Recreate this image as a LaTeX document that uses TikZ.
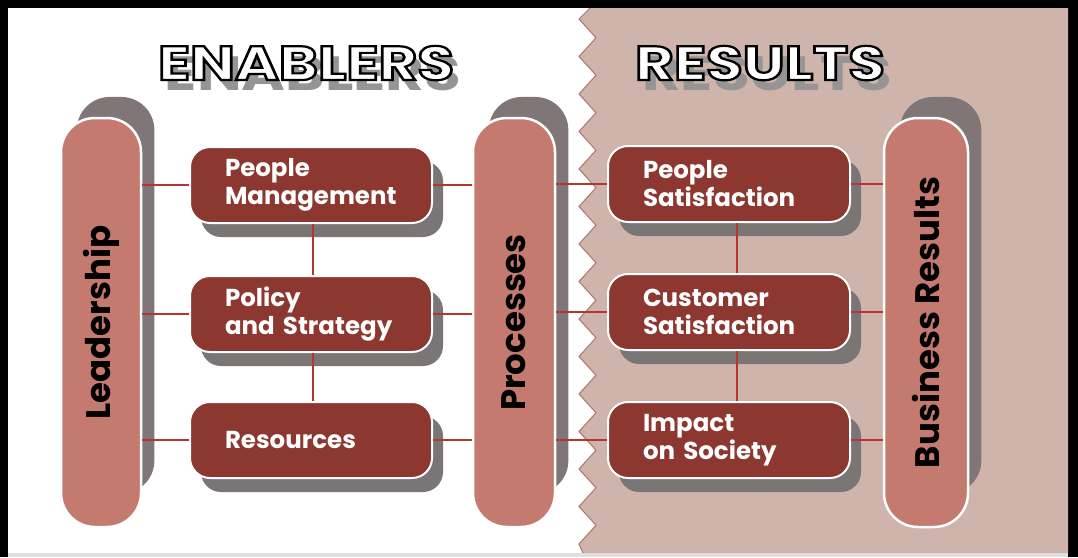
\documentclass[tikz,border=0pt]{standalone}
\usepackage{fontspec}
\setmainfont{Poppins}
\usetikzlibrary{shadows}
\definecolor{pinkbg}{RGB}{206,180,171}
\definecolor{pinkedge}{RGB}{172,118,108}
\definecolor{pillred}{RGB}{196,122,110}
\definecolor{pillgray}{RGB}{128,118,120}
\definecolor{boxred}{RGB}{140,56,48}
\definecolor{boxgray}{RGB}{122,118,118}
\definecolor{linkred}{RGB}{184,52,46}
\definecolor{titlegray}{RGB}{150,148,148}
% outlined letters: fill white, stroke black
\newcommand{\outlined}[1]{\textcolor{white}{\special{pdf:literal direct 0 0 0 RG 2.2 w 2 Tr}#1\special{pdf:literal direct 0 Tr}}}
\tikzset{
	pill/.style={draw=white, line width=2.5pt, fill=pillred, rounded corners=34pt, minimum width=80pt, minimum height=409pt, inner sep=0pt, font=\fontsize{34}{34}\selectfont\bfseries, drop shadow={shadow xshift=15pt, shadow yshift=28pt, shadow scale=0.97, fill=pillgray, opacity=1}},
	stage/.style={draw=white, line width=2pt, fill=boxred, rounded corners=20pt, minimum width=242pt, minimum height=76pt, text width=172pt, inner xsep=35pt, align=left, text=white, font=\fontsize{24.5}{28}\selectfont\bfseries, drop shadow={shadow xshift=11pt, shadow yshift=-14pt, fill=boxgray, opacity=1}},
	link/.style={draw=linkred, line width=2.5pt},
	title/.style={font=\fontsize{48}{48}\selectfont\bfseries, anchor=base, inner sep=0pt}
}
\begin{document}
\begin{tikzpicture}[x=1pt,y=-1pt]
	% Frame
	\useasboundingbox (0,0) rectangle (1078,557);
	\fill [black] (0,0) rectangle (1078,557);
	\fill [white] (8,8) rectangle (1068,553);
	\fill [black!12] (8,553) rectangle (1068,557);
	% Results side
	\fill [pinkbg] (590,8) \foreach \k in {0,...,13} { -- (579,{19+37.5*\k}) -- (596,{37.75+37.5*\k}) } -- (579,544) -- (583,553) -- (1068,553) -- (1068,8) -- cycle;
	\draw [pinkedge, line width=1pt] (590,8) \foreach \k in {0,...,13} { -- (579,{19+37.5*\k}) -- (596,{37.75+37.5*\k}) } -- (579,544) -- (583,553);
	% Titles
	\node [title, text=titlegray] (enshadow) at (313,90) {\scalebox{1.24}[1]{ENABLERS}};
	\node [title] (enablers) at (306,80) {\scalebox{1.24}[1]{\outlined{ENABLERS}}};
	\node [title, text=titlegray] (reshadow) at (767,90) {\scalebox{1.24}[1]{RESULTS}};
	\node [title] (results) at (760,80) {\scalebox{1.24}[1]{\outlined{RESULTS}}};
	% Pillars
	\node [pill] (lead) at (101,322.5) {\rotatebox{90}{Leadership}};
	\node [pill, minimum width=82pt] (proc) at (514,322.5) {\rotatebox{90}{Processes}};
	\node [pill, minimum width=84pt] (bres) at (926,322.5) {\rotatebox{90}{Business Results}};
	% Enablers
	\node [stage] (pm) at (311,185) {People\\Management};
	\node [stage] (pstr) at (311,314) {Policy\\and Strategy};
	\node [stage] (res) at (311,440) {Resources};
	% Results
	\node [stage] (psat) at (729,184) {People\\Satisfaction};
	\node [stage] (csat) at (729,312) {Customer\\Satisfaction};
	\node [stage] (impact) at (729,440) {Impact\\on Society};
	% Links
	\foreach \b/\r in {pm/psat, pstr/csat, res/impact} {
		\draw [link] (lead.east |- \b.west) -- (\b.west);
		\draw [link] (\b.east) -- (\b.east -| proc.west);
		\draw [link] (proc.east |- \r.west) -- (\r.west);
		\draw [link] (\r.east) -- (\r.east -| bres.west);
	}
	\draw [link] ([xshift=2pt]pm.south) -- ([xshift=2pt]pstr.north);
	\draw [link] ([xshift=2pt]pstr.south) -- ([xshift=2pt]res.north);
	\draw [link] ([xshift=8pt]psat.south) -- ([xshift=8pt]csat.north);
	\draw [link] ([xshift=8pt]csat.south) -- ([xshift=8pt]impact.north);
\end{tikzpicture}
\end{document}
